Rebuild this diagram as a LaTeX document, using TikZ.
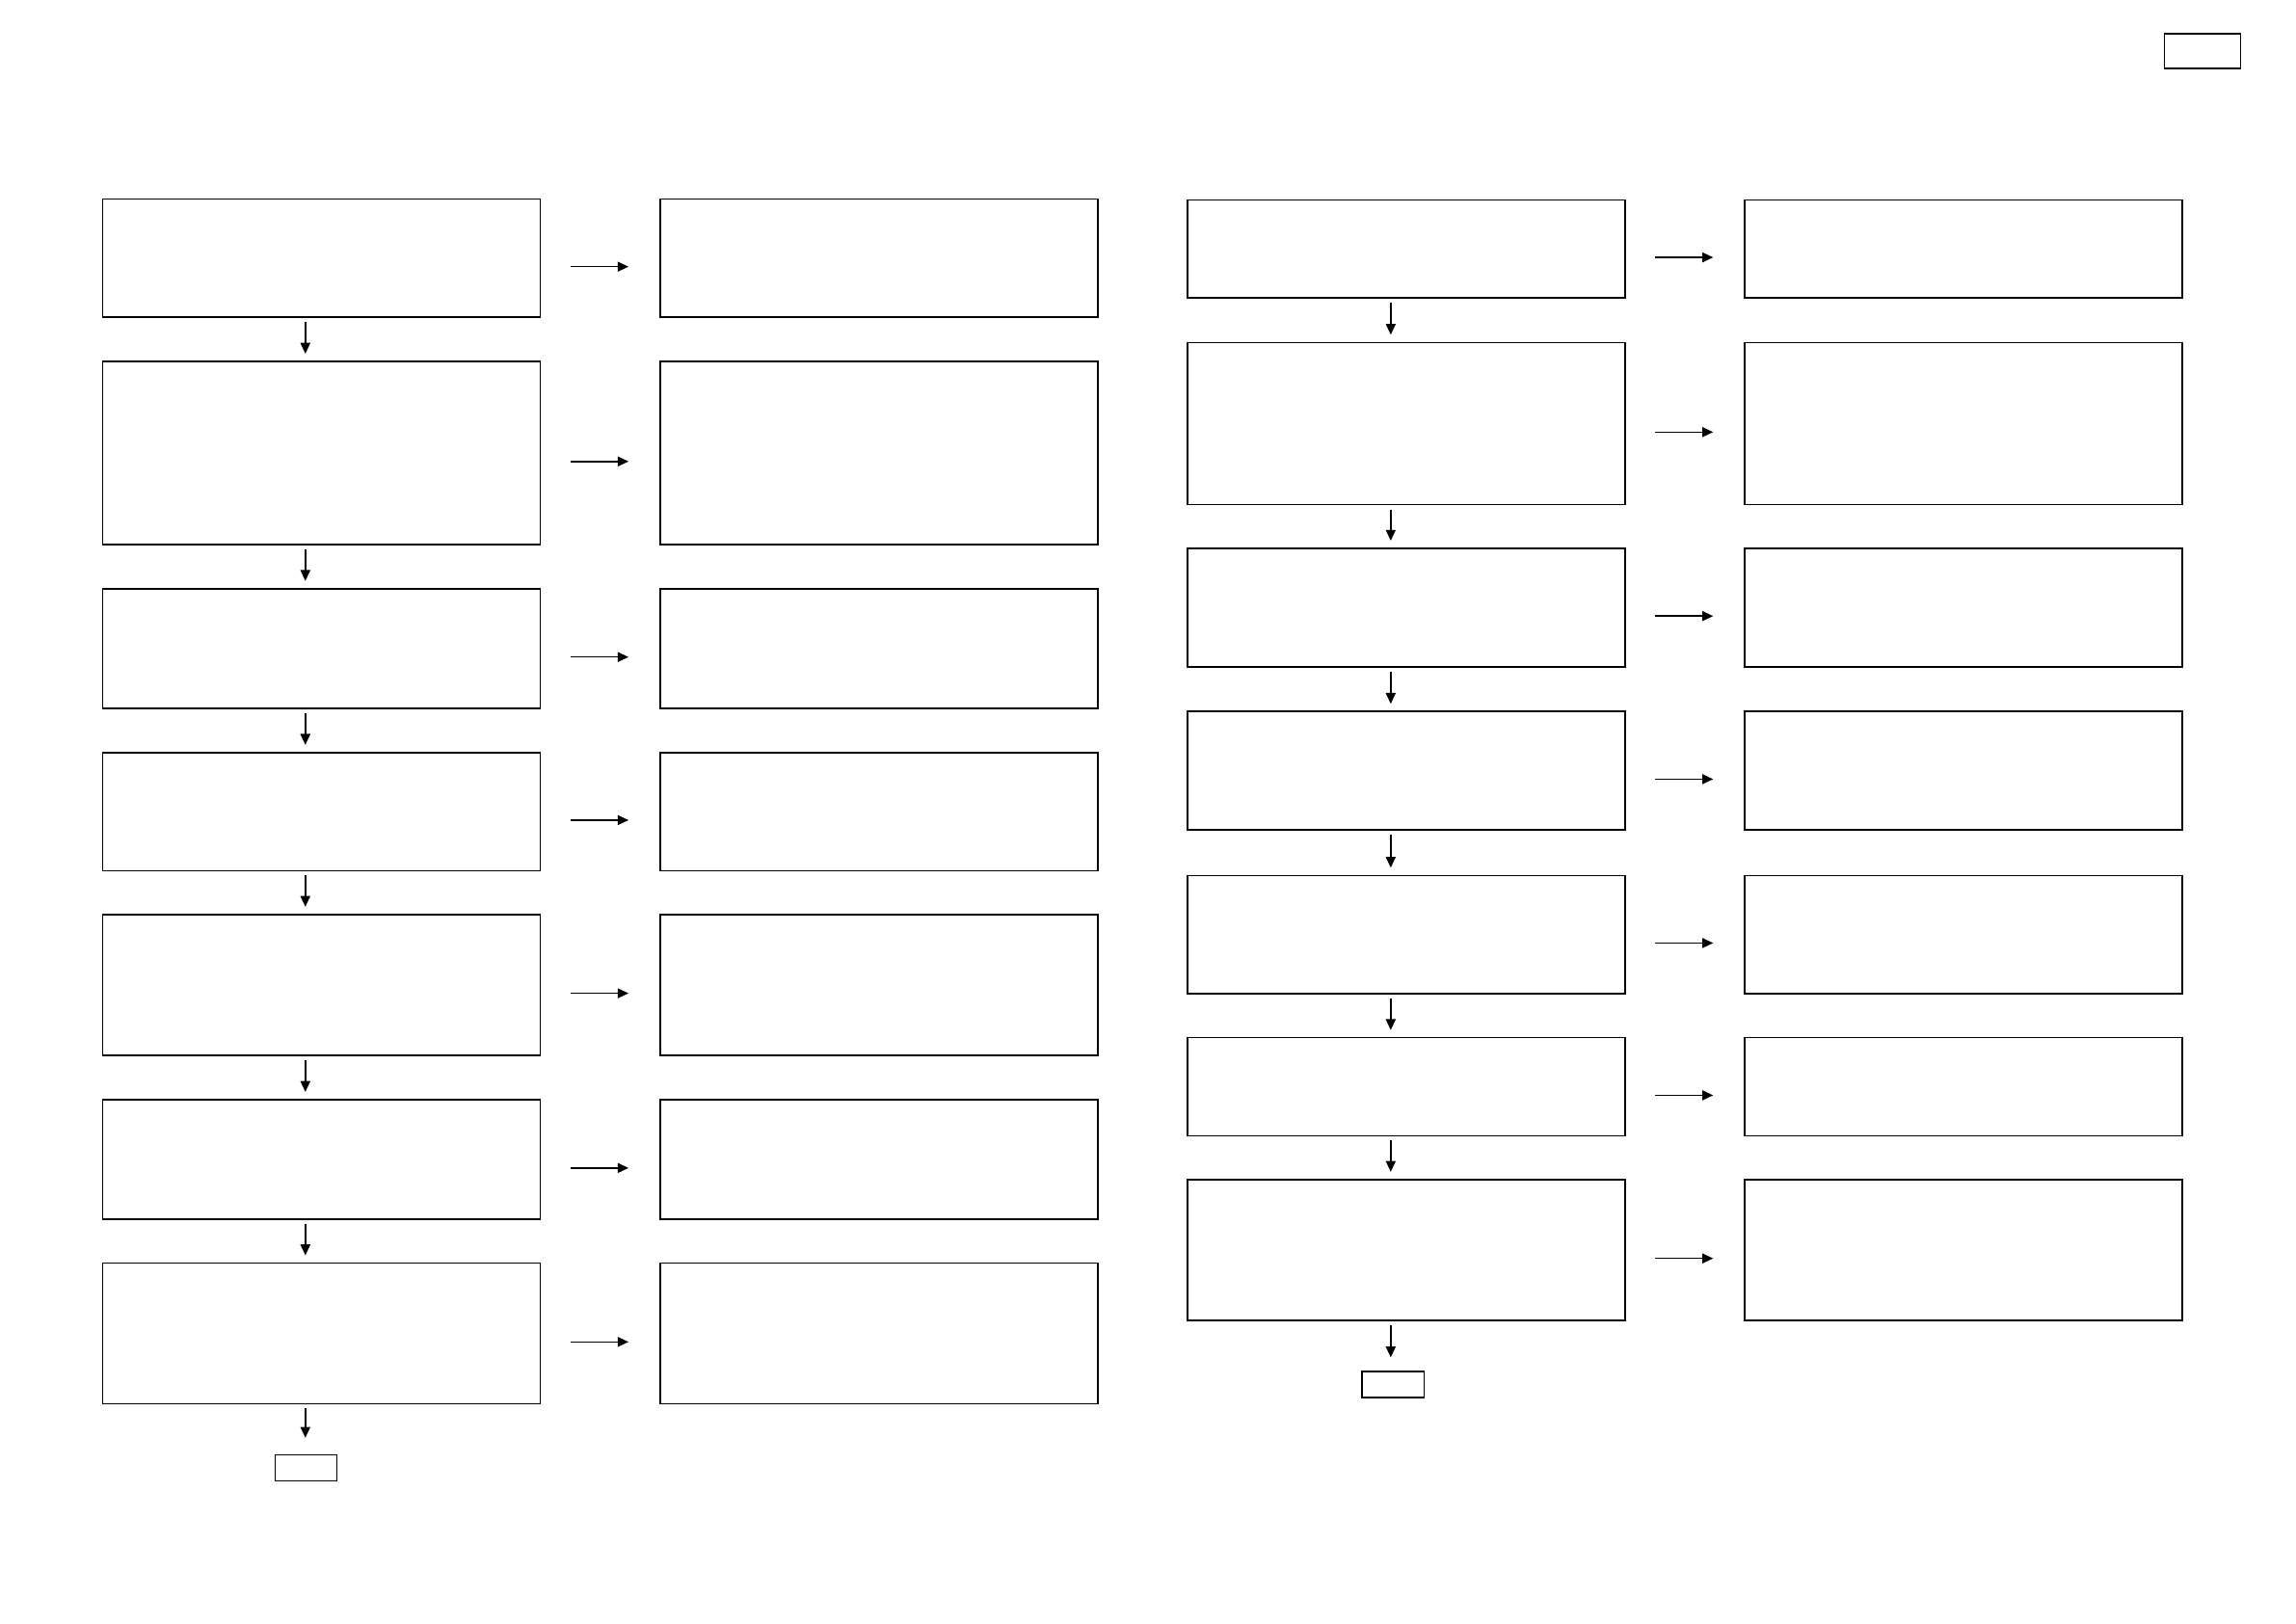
\documentclass[tikz,border=0pt]{standalone}
\usetikzlibrary{arrows.meta,positioning}

\begin{document}
\begin{tikzpicture}[
    box/.style={draw,line width=0.55pt,inner sep=0pt,minimum width=5.66cm},
    endbox/.style={draw,line width=0.55pt,inner sep=0pt,minimum width=0.8cm,
                   minimum height=0.34cm},
    arr/.style={-{Triangle[length=4pt,width=3.6pt]},line width=0.55pt},
    down/.style={arr,shorten <=0.05cm,shorten >=0.09cm},
    across/.style={arr,shorten <=0.38cm,shorten >=0.4cm},
]
\useasboundingbox (0,0) rectangle (29.7,21);

% ---- Page tag ------------------------------------------------------------
\node[draw,line width=0.55pt,inner sep=0pt,minimum width=0.98cm,
      minimum height=0.45cm] (tag) at (28.49,20.34) {};

% ---- Left half, first column ---------------------------------------------
\node[box,minimum height=1.53cm] (a1) at (4.16,17.66) {};
\node[box,minimum height=2.37cm] (a2) at (4.16,15.14) {};
\node[box,minimum height=1.55cm] (a3) at (4.16,12.61) {};
\node[box,minimum height=1.53cm] (a4) at (4.16,10.50) {};
\node[box,minimum height=1.82cm] (a5) at (4.16,8.26)  {};
\node[box,minimum height=1.55cm] (a6) at (4.16,6.00)  {};
\node[box,minimum height=1.82cm] (a7) at (4.16,3.75)  {};
\node[endbox] (endA) at (3.96,2.01) {};

% ---- Left half, second column --------------------------------------------
\node[box,minimum height=1.53cm] (b1) at (11.37,17.66) {};
\node[box,minimum height=2.37cm] (b2) at (11.37,15.14) {};
\node[box,minimum height=1.55cm] (b3) at (11.37,12.61) {};
\node[box,minimum height=1.53cm] (b4) at (11.37,10.50) {};
\node[box,minimum height=1.82cm] (b5) at (11.37,8.26)  {};
\node[box,minimum height=1.55cm] (b6) at (11.37,6.00)  {};
\node[box,minimum height=1.82cm] (b7) at (11.37,3.75)  {};

% ---- Right half, first column --------------------------------------------
\node[box,minimum height=1.27cm] (c1) at (18.19,17.78) {};
\node[box,minimum height=2.10cm] (c2) at (18.19,15.52) {};
\node[box,minimum height=1.53cm] (c3) at (18.19,13.14) {};
\node[box,minimum height=1.53cm] (c4) at (18.19,11.03) {};
\node[box,minimum height=1.53cm] (c5) at (18.19,8.91)  {};
\node[box,minimum height=1.27cm] (c6) at (18.19,6.94)  {};
\node[box,minimum height=1.82cm] (c7) at (18.19,4.83)  {};
\node[endbox] (endB) at (18.02,3.09) {};

% ---- Right half, second column -------------------------------------------
\node[box,minimum height=1.27cm] (d1) at (25.40,17.78) {};
\node[box,minimum height=2.10cm] (d2) at (25.40,15.52) {};
\node[box,minimum height=1.53cm] (d3) at (25.40,13.14) {};
\node[box,minimum height=1.53cm] (d4) at (25.40,11.03) {};
\node[box,minimum height=1.53cm] (d5) at (25.40,8.91)  {};
\node[box,minimum height=1.27cm] (d6) at (25.40,6.94)  {};
\node[box,minimum height=1.82cm] (d7) at (25.40,4.83)  {};

% ---- Flow down, left half ------------------------------------------------
\draw[down] ([xshift=-0.21cm]a1.south) -- ([xshift=-0.21cm]a2.north);
\draw[down] ([xshift=-0.21cm]a2.south) -- ([xshift=-0.21cm]a3.north);
\draw[down] ([xshift=-0.21cm]a3.south) -- ([xshift=-0.21cm]a4.north);
\draw[down] ([xshift=-0.21cm]a4.south) -- ([xshift=-0.21cm]a5.north);
\draw[down] ([xshift=-0.21cm]a5.south) -- ([xshift=-0.21cm]a6.north);
\draw[down] ([xshift=-0.21cm]a6.south) -- ([xshift=-0.21cm]a7.north);
\draw[down,shorten >=0.21cm] ([xshift=-0.21cm]a7.south) -- ([xshift=-0.21cm]a7.south|-endA.north);

% ---- Flow down, right half -----------------------------------------------
\draw[down] ([xshift=-0.2cm]c1.south) -- ([xshift=-0.2cm]c2.north);
\draw[down] ([xshift=-0.2cm]c2.south) -- ([xshift=-0.2cm]c3.north);
\draw[down] ([xshift=-0.2cm]c3.south) -- ([xshift=-0.2cm]c4.north);
\draw[down] ([xshift=-0.2cm]c4.south) -- ([xshift=-0.2cm]c5.north);
\draw[down] ([xshift=-0.2cm]c5.south) -- ([xshift=-0.2cm]c6.north);
\draw[down] ([xshift=-0.2cm]c6.south) -- ([xshift=-0.2cm]c7.north);
\draw[down,shorten >=0.17cm] ([xshift=-0.2cm]c7.south) -- ([xshift=-0.2cm]c7.south|-endB.north);

% ---- Across, left half ---------------------------------------------------
\draw[across] ([yshift=-0.11cm]a1.east) -- ([yshift=-0.11cm]b1.west);
\draw[across] ([yshift=-0.11cm]a2.east) -- ([yshift=-0.11cm]b2.west);
\draw[across] ([yshift=-0.11cm]a3.east) -- ([yshift=-0.11cm]b3.west);
\draw[across] ([yshift=-0.11cm]a4.east) -- ([yshift=-0.11cm]b4.west);
\draw[across] ([yshift=-0.11cm]a5.east) -- ([yshift=-0.11cm]b5.west);
\draw[across] ([yshift=-0.11cm]a6.east) -- ([yshift=-0.11cm]b6.west);
\draw[across] ([yshift=-0.11cm]a7.east) -- ([yshift=-0.11cm]b7.west);

% ---- Across, right half --------------------------------------------------
\draw[across] ([yshift=-0.11cm]c1.east) -- ([yshift=-0.11cm]d1.west);
\draw[across] ([yshift=-0.11cm]c2.east) -- ([yshift=-0.11cm]d2.west);
\draw[across] ([yshift=-0.11cm]c3.east) -- ([yshift=-0.11cm]d3.west);
\draw[across] ([yshift=-0.11cm]c4.east) -- ([yshift=-0.11cm]d4.west);
\draw[across] ([yshift=-0.11cm]c5.east) -- ([yshift=-0.11cm]d5.west);
\draw[across] ([yshift=-0.11cm]c6.east) -- ([yshift=-0.11cm]d6.west);
\draw[across] ([yshift=-0.11cm]c7.east) -- ([yshift=-0.11cm]d7.west);

\end{tikzpicture}
\end{document}
